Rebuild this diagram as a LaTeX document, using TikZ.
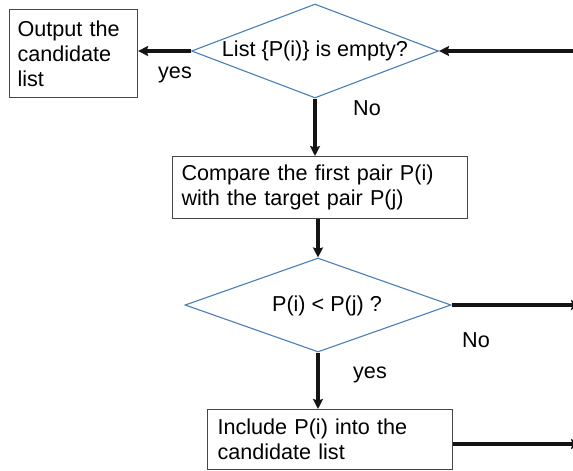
\documentclass[tikz,border=0pt]{standalone}
\usepackage{fontspec}
\setmainfont{Liberation Sans}
\usetikzlibrary{shapes.geometric,arrows.meta}
\definecolor{boxgray}{RGB}{70,70,70}
\definecolor{decblue}{RGB}{74,126,187}
\definecolor{flowblack}{RGB}{20,20,20}
\begin{document}
\begin{tikzpicture}[x=1pt,y=-1pt,
  font=\fontsize{21.6}{25}\selectfont,
  procbox/.style={draw=boxgray,line width=1.1pt,rectangle,anchor=north west,
    align=left,inner ysep=0pt},
  decision/.style={draw=decblue,line width=1.1pt,diamond,aspect=2.64,inner sep=0pt},
  flow/.style={draw=flowblack,line width=3.4pt,
    -{Stealth[length=10pt,width=10pt,inset=1.5pt]}},
  tag/.style={inner sep=0pt}]
  \useasboundingbox (0,0) rectangle (573,471);
  \clip (0,0) rectangle (573,471);

  % process boxes
  \node[procbox,minimum width=128pt,minimum height=88pt,text width=112pt,inner xsep=8pt]
    (out) at (9,9) {Output the\\candidate\\list};
  \node[procbox,minimum width=295pt,minimum height=62pt,text width=277pt,inner xsep=9pt]
    (cmp) at (172,156) {Compare the first pair P(i)\\with the target pair P(j)};
  \node[procbox,minimum width=245pt,minimum height=60pt,text width=225pt,inner xsep=10pt]
    (inc) at (207,409) {Include P(i) into the\\candidate list};

  % decisions
  \node[decision,minimum width=247pt,minimum height=94pt] (d1) at (315,51)
    {List \{P(i)\} is empty?};
  \node[decision,minimum width=266pt,minimum height=94pt] (d2) at (318,305) {};
  \node[tag] (d2text) at (327,306) {P(i) < P(j) ?};

  % free ends of the loop connectors
  \coordinate (loopin) at (573,51);
  \coordinate (nobranch) at (581,305);
  \coordinate (incnext) at (581,444);

  % connectors
  \draw[flow] (loopin) -- (d1.east);
  \draw[flow] (d1.west) -- (d1.west -| out.east);
  \draw[flow] (d1.south) -- (d1.south |- cmp.north);
  \draw[flow] (cmp.south -| d2.north) -- (d2.north);
  \draw[flow] (d2.east) -- (nobranch);
  \draw[flow] (d2.south) -- (d2.south |- inc.north);
  \draw[flow] (incnext -| inc.east) -- (incnext);

  % branch labels
  \node[tag] (yes1) at (175,75) {yes};
  \node[tag] (no1) at (367,108) {No};
  \node[tag] (no2) at (476,340) {No};
  \node[tag] (yes2) at (370,375) {yes};
\end{tikzpicture}
\end{document}
